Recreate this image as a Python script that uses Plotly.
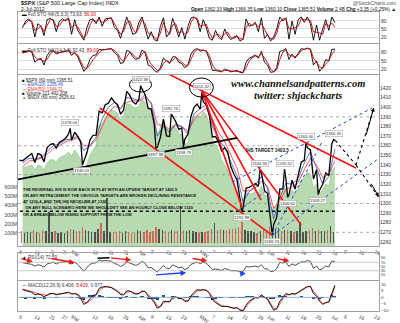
import plotly.graph_objects as go

# ----------------------------- data -----------------------------
# trading-day index 0 = 6-Feb-2012 ... 102 = 2-Jul-2012 (hourly chart, one value per day read off)
close = [
    1344.33, 1347.05, 1349.96, 1351.95, 1342.64, 1351.77, 1350.50, 1343.23, 1358.04, 1361.23,
    1362.21, 1357.66, 1363.46, 1365.74, 1367.59, 1372.18, 1365.68, 1374.09, 1369.63, 1364.33,
    1343.36, 1352.63, 1365.91, 1370.87, 1371.09, 1395.95, 1394.28, 1402.60, 1404.17, 1409.75,
    1405.52, 1402.89, 1392.78, 1397.11, 1416.51, 1412.52, 1405.54, 1403.28, 1408.47, 1419.04,
    1413.38, 1398.96, 1398.08, 1382.20, 1358.59, 1368.71, 1387.57, 1370.26, 1369.57, 1390.78,
    1385.14, 1376.92, 1378.53, 1366.94, 1371.97, 1390.69, 1399.98, 1403.36, 1397.91, 1405.82,
    1402.31, 1391.57, 1369.10, 1369.58, 1363.72, 1354.58, 1357.99, 1353.39, 1338.35, 1330.66,
    1324.80, 1304.86, 1295.22, 1315.99, 1316.63, 1318.86, 1320.68, 1317.82, 1332.42, 1313.32,
    1310.33, 1278.04, 1278.18, 1285.50, 1315.13, 1314.99, 1325.66, 1308.93, 1324.18, 1314.88,
    1329.10, 1342.84, 1344.78, 1357.98, 1355.69, 1325.51, 1335.02, 1313.72, 1319.99, 1331.85,
    1329.04, 1362.16, 1365.51]
prev_close = 1344.90

swing_day = [16, 20, 39, 44, 49, 53, 59, 72, 78, 82, 86, 87, 93, 97, 102]
swing_val = [1378.04, 1340.03, 1422.38, 1357.38, 1392.76, 1358.79, 1415.32, 1291.98,
             1334.93, 1266.74, 1335.52, 1306.62, 1363.46, 1309.27, 1366.35]
swing_side = [1, -1, 1, -1, 1, -1, 1, -1, 1, -1, 1, -1, 1, -1, 1]

ema_day = list(range(0, 103, 2))
ema20 = [1342, 1347, 1346, 1348, 1354, 1360, 1362, 1366, 1367, 1370,
         1355, 1360, 1369, 1388, 1400, 1405, 1398, 1410, 1409, 1407,
         1413, 1403, 1370, 1380, 1374, 1383, 1380, 1372, 1393, 1399,
         1402, 1380, 1366, 1359, 1343, 1329, 1302, 1312, 1319, 1328,
         1315, 1284, 1306, 1321, 1320, 1326, 1342, 1354, 1337, 1320,
         1328, 1356.46]
ema50 = [1338, 1344, 1345, 1347, 1351, 1357, 1360, 1364, 1366, 1368,
         1360, 1360, 1366, 1380, 1394, 1401, 1399, 1405, 1407, 1406,
         1410, 1405, 1382, 1381, 1377, 1381, 1380, 1375, 1387, 1394,
         1399, 1388, 1374, 1364, 1351, 1337, 1313, 1313, 1316, 1323,
         1318, 1295, 1302, 1315, 1317, 1322, 1335, 1347, 1340, 1327,
         1330, 1344.31]

ndx = [2624, 2627, 2629, 2631, 2619, 2631, 2629, 2619, 2636, 2644,
       2644, 2639, 2649, 2653, 2656, 2663, 2653, 2668, 2658, 2644,
       2614, 2631, 2656, 2668, 2680, 2729, 2732, 2746, 2754, 2766,
       2761, 2758, 2741, 2751, 2780, 2780, 2773, 2771, 2775, 2790,
       2785, 2766, 2771, 2746, 2705, 2722, 2741, 2722, 2712, 2729,
       2722, 2707, 2705, 2680, 2688, 2729, 2746, 2754, 2746, 2761,
       2754, 2729, 2692, 2680, 2668, 2644, 2631, 2619, 2600, 2583,
       2570, 2551, 2546, 2566, 2561, 2561, 2566, 2563, 2580, 2558,
       2556, 2527, 2527, 2536, 2566, 2566, 2575, 2556, 2570, 2561,
       2575, 2595, 2600, 2614, 2609, 2575, 2585, 2561, 2570, 2585,
       2580, 2619, 2626.61]

volume_m = [130, 110, 120, 115, 140, 120, 110, 135, 125, 330,
            115, 125, 110, 120, 105, 130, 150, 140, 125, 130,
            170, 140, 130, 120, 115, 150, 215, 130, 480, 120,
            115, 120, 130, 110, 125, 120, 110, 105, 140, 125,
            120, 140, 115, 130, 170, 150, 135, 130, 120, 140,
            130, 125, 400, 135, 125, 140, 130, 120, 110, 120,
            115, 130, 150, 215, 140, 150, 140, 135, 150, 145,
            160, 170, 230, 140, 130, 125, 120, 110, 130, 140,
            140, 170, 150, 140, 160, 130, 140, 135, 130, 120,
            125, 230, 120, 130, 135, 160, 130, 140, 125, 130,
            140, 180, 121]

sto1_k = [55, 80, 88, 75, 20, 70, 60, 25, 85, 90,
          82, 40, 78, 88, 80, 92, 30, 85, 45, 25,
          8, 55, 85, 88, 70, 95, 60, 88, 90, 92,
          55, 45, 15, 60, 95, 65, 30, 35, 75, 95,
          55, 12, 40, 10, 5, 60, 92, 20, 35, 90,
          55, 20, 55, 12, 60, 92, 95, 85, 40, 85,
          55, 15, 8, 45, 20, 10, 50, 25, 10, 20,
          25, 5, 12, 88, 60, 65, 75, 40, 92, 15,
          30, 5, 20, 50, 95, 80, 92, 12, 80, 30,
          85, 95, 75, 95, 70, 8, 65, 8, 50, 85,
          45, 95, 73.93]
sto1_d = [60, 70, 82, 80, 45, 50, 62, 40, 60, 85,
          86, 60, 62, 80, 84, 88, 55, 65, 58, 35,
          15, 30, 65, 85, 78, 85, 75, 78, 88, 90,
          70, 50, 30, 40, 75, 80, 50, 35, 55, 85,
          70, 35, 28, 20, 10, 35, 75, 45, 30, 65,
          70, 35, 40, 30, 38, 75, 92, 90, 60, 65,
          68, 35, 15, 28, 30, 18, 32, 38, 18, 15,
          22, 15, 10, 55, 72, 62, 70, 58, 70, 50,
          25, 15, 12, 35, 75, 88, 88, 50, 50, 55,
          60, 88, 85, 85, 82, 40, 38, 35, 30, 70,
          62, 72, 56.00]
sto2_k = [80, 85, 88, 82, 45, 55, 60, 35, 70, 85,
          88, 75, 80, 85, 86, 90, 70, 80, 65, 35,
          12, 25, 55, 70, 72, 92, 90, 92, 94, 95,
          80, 70, 40, 45, 88, 85, 65, 55, 60, 90,
          80, 35, 30, 15, 8, 25, 60, 50, 40, 65,
          65, 45, 40, 25, 35, 75, 90, 95, 85, 90,
          85, 55, 15, 15, 12, 10, 20, 15, 10, 12,
          15, 8, 6, 45, 60, 65, 72, 60, 85, 45,
          35, 8, 10, 25, 85, 88, 95, 55, 75, 60,
          80, 95, 92, 97, 92, 35, 50, 12, 25, 55,
          50, 93, 92.43]
sto2_d = [78, 82, 86, 85, 65, 55, 55, 48, 55, 75,
          85, 82, 80, 82, 85, 88, 80, 78, 72, 50,
          25, 22, 35, 55, 68, 80, 90, 91, 93, 94,
          88, 78, 58, 48, 65, 82, 75, 62, 58, 75,
          85, 55, 38, 25, 15, 18, 40, 52, 45, 52,
          62, 55, 45, 35, 32, 55, 80, 92, 90, 88,
          87, 70, 35, 18, 15, 12, 15, 16, 13, 12,
          13, 11, 8, 25, 50, 62, 68, 66, 75, 62,
          42, 20, 10, 18, 55, 82, 90, 72, 68, 65,
          72, 88, 93, 95, 94, 60, 45, 28, 22, 40,
          50, 75, 89.00]

rsi14 = [68, 65, 62, 60, 52, 58, 55, 48, 62, 66,
         70, 62, 68, 70, 72, 75, 62, 70, 60, 45,
         28, 45, 60, 66, 67, 80, 76, 78, 78, 75,
         64, 60, 50, 57, 72, 66, 58, 55, 62, 74,
         65, 44, 45, 35, 24, 38, 55, 42, 40, 58,
         52, 44, 47, 36, 42, 60, 66, 70, 64, 70,
         66, 52, 35, 38, 36, 32, 40, 37, 30, 30,
         30, 24, 26, 50, 48, 50, 52, 48, 58, 40,
         38, 26, 28, 40, 70, 66, 72, 50, 62, 55,
         64, 72, 72, 78, 74, 42, 52, 34, 40, 52,
         48, 76, 72.59]

macd_line = [6, 5, 4.5, 4, 2, 2.5, 2, 0.5, 2, 3,
             3, 2, 2.5, 3, 3.5, 4, 2.5, 3, 2, -1,
             -5.5, -4, -1, 1.5, 2, 7, 8, 8.5, 8, 7.5,
             6, 4.5, 2, 2, 5, 5, 3.5, 2.5, 3, 5,
             4.5, 1, -1, -4, -8.5, -7, -3, -3, -3.5, 0,
             0.5, -1, -1, -3, -3, 1, 4, 6, 5.5, 6,
             5.5, 3, -2, -4, -5.5, -7, -7, -7, -8, -8.5,
             -8, -10, -10.5, -6, -3, -1.5, 0, -0.5, 2, 0,
             -1.5, -6, -10, -9, -3, 0, 3, 2, 3, 2.5,
             4, 6, 7, 8.5, 8.5, 3, 1, -3, -5.5, -4,
             -3.5, 3, 9.406]
macd_signal = [6.5, 6, 5, 4.5, 3.5, 3, 2.5, 1.5, 1.5, 2.5,
               3, 2.5, 2.5, 2.8, 3.2, 3.7, 3, 3, 2.5, 0.5,
               -3.5, -4.5, -2.5, 0, 1.5, 5, 7, 8, 8.2, 7.8,
               6.6, 5.2, 3, 2.2, 3.8, 4.6, 4, 3, 3, 4.3,
               4.6, 2.2, 0, -2.8, -6.8, -7.3, -4.5, -3.3, -3.5, -1.2,
               0, -0.6, -0.9, -2.3, -2.8, -0.3, 2.8, 5, 5.5, 5.8,
               5.7, 3.8, 0, -3, -4.8, -6.4, -6.9, -7, -7.6, -8.3,
               -8.1, -9.4, -10.2, -7.4, -4.3, -2.3, -0.6, -0.5, 1.3, 0.4,
               -1, -4.6, -8.4, -8.9, -4.7, -1.2, 2, 2, 2.7, 2.6,
               3.5, 5.3, 6.6, 8, 8.5, 4.5, 1.8, -2, -4.8, -4.3,
               -3.7, 1.2, 8.429]
macd_hist = [-0.5, -1, -0.5, -0.5, -1.5, -0.5, -0.5, -1, 0.5, 0.5,
             0, -0.5, 0, 0.2, 0.3, 0.3, -0.5, 0, -0.5, -1.5,
             -2, 0.5, 1.5, 1.5, 0.5, 2, 1, 0.5, -0.2, -0.3,
             -0.6, -0.7, -1, -0.2, 1.2, 0.4, -0.5, -0.5, 0, 0.7,
             -0.1, -1.2, -1, -1.2, -1.7, 0.3, 1.5, 0.3, 0, 1.2,
             0.5, -0.4, -0.1, -0.7, -0.2, 1.3, 1.2, 1, 0, 0.2,
             -0.2, -0.8, -2, -1, -0.7, -0.6, -0.1, 0, -0.4, -0.2,
             0.1, -0.6, -0.3, 1.4, 1.3, 0.8, 0.6, 0, 0.7, -0.4,
             -0.5, -1.4, -1.6, -0.1, 1.7, 1.2, 1, 0, 0.3, -0.1,
             0.5, 0.7, 0.4, 0.5, 0, -1.5, -0.8, -1, -0.7, 0.3,
             0.2, 1.8, 0.977]

tick_idx = [0, 5, 10, 14, 17, 24, 29, 34, 39, 43, 48, 53, 59, 63, 68, 73, 78, 81,
            87, 92, 97, 102, 106, 111, 116]
tick_text = ["6", "13", "21", "27", "Mar", "12", "19", "26", "Apr", "9", "16", "23", "May",
             "7", "14", "21", "29", "Jun", "11", "18", "25", "Jul", "9", "16", "23"]
price_ticks = list(range(1260, 1430, 10))
grid_levels = [1270, 1300, 1330, 1360, 1390]
vol_ticks = [100, 200, 300, 400, 500, 600]
support_level = 1291.98

# ----------------------------- geometry -----------------------------
W, H = 400, 323
ML, MR, MT, MB = 18, 21, 12, 12
PW, PH = W - ML - MR, H - MT - MB


def dom(top, bot):
    return [(H - MB - bot) / PH, (H - MB - top) / PH]


def P(x, y):
    return (x - ML) / PW, (H - MB - y) / PH


FONT = "Liberation Sans, Arial, sans-serif"
n = len(close)
xd = [i + 0.9 for i in range(n)]

fig = go.Figure()

# --- panel 1 : Full STO 5,3,3
fig.add_trace(go.Scatter(x=xd, y=sto1_k, mode="lines", line=dict(color="black", width=0.9), xaxis="x", yaxis="y"))
fig.add_trace(go.Scatter(x=xd, y=sto1_d, mode="lines", line=dict(color="#d00000", width=0.9), xaxis="x", yaxis="y"))
# --- panel 2 : Full STO 14,3,3
fig.add_trace(go.Scatter(x=xd, y=sto2_k, mode="lines", line=dict(color="black", width=0.9), xaxis="x2", yaxis="y2"))
fig.add_trace(go.Scatter(x=xd, y=sto2_d, mode="lines", line=dict(color="#d00000", width=0.9), xaxis="x2", yaxis="y2"))

# --- panel 3 : NDX area (base), volume (overlay), price (overlay)
fig.add_trace(go.Scatter(x=xd, y=ndx, mode="lines", fill="tozeroy", fillcolor="rgba(172,212,163,0.85)",
                         line=dict(color="#8cbf84", width=0.6), xaxis="x3", yaxis="y3"))
vcol = ["#d9534f" if (close[i] < (close[i - 1] if i else prev_close)) else "#3a3a3a" for i in range(n)]
fig.add_trace(go.Bar(x=[i + 0.5 for i in range(n)], y=volume_m, marker=dict(color=vcol, line=dict(width=0)),
                     width=0.45, opacity=0.85, xaxis="x3", yaxis="y6"))
fig.add_trace(go.Scatter(x=[d + 0.9 for d in ema_day], y=ema50, mode="lines", line=dict(color="#ff3030", width=0.8),
                         xaxis="x3", yaxis="y7"))
fig.add_trace(go.Scatter(x=[d + 0.9 for d in ema_day], y=ema20, mode="lines", line=dict(color="#3050d0", width=0.8),
                         xaxis="x3", yaxis="y7"))
pts = [(-0.1, prev_close)] + list(zip(xd, close)) + [(d + 0.45, v) for d, v in zip(swing_day, swing_val)]
pts.sort()
fig.add_trace(go.Scatter(x=[p[0] for p in pts], y=[p[1] for p in pts], mode="lines",
                         line=dict(color="black", width=1.3), xaxis="x3", yaxis="y7"))

# --- panel 4 : RSI
fig.add_trace(go.Scatter(x=xd, y=rsi14, mode="lines", line=dict(color="#222", width=0.8), xaxis="x4", yaxis="y4"))
# --- panel 5 : MACD
fig.add_trace(go.Bar(x=xd, y=macd_hist, marker=dict(color="#1d4a8a", line=dict(width=0)), width=1.0,
                     xaxis="x5", yaxis="y5"))
fig.add_trace(go.Scatter(x=xd, y=macd_signal, mode="lines", line=dict(color="#ff4040", width=0.9), xaxis="x5", yaxis="y5"))
fig.add_trace(go.Scatter(x=xd, y=macd_line, mode="lines", line=dict(color="black", width=0.9), xaxis="x5", yaxis="y5"))

# ----------------------------- axes -----------------------------
tf = dict(size=5.0, color="#333", family=FONT)
xbase = dict(range=[-0.6, 117.3], showgrid=False, zeroline=False, showline=True, mirror=True,
             linecolor="#a0a0a0", linewidth=1, ticks="", tickvals=tick_idx, ticktext=tick_text,
             tickfont=tf, showticklabels=False, fixedrange=True, automargin=False)
ybase = dict(showgrid=True, gridcolor="#c8c8c8", gridwidth=0.6, zeroline=False, showline=True, mirror=True,
             linecolor="#a0a0a0", linewidth=1, ticks="", side="right", tickfont=tf, fixedrange=True,
             automargin=False)

lay = dict(
    xaxis=dict(xbase, anchor="y"),
    xaxis2=dict(xbase, anchor="y2", matches="x"),
    xaxis3=dict(xbase, anchor="y3", matches="x", showticklabels=True),
    xaxis4=dict(xbase, anchor="y4", matches="x"),
    xaxis5=dict(xbase, anchor="y5", matches="x", showticklabels=True),
    yaxis=dict(ybase, domain=dom(12, 43), range=[-2.5, 113.7], tickvals=[20, 50, 80], anchor="x"),
    yaxis2=dict(ybase, domain=dom(44, 74), range=[2, 111.8], tickvals=[20, 50, 80], anchor="x2"),
    yaxis3=dict(ybase, domain=dom(75, 246), range=[2433.8, 2851], showgrid=False, showticklabels=False, anchor="x3"),
    yaxis6=dict(overlaying="y3", anchor="x3", side="left", range=[-32, 1800], tickvals=vol_ticks,
                ticktext=[f"{v}M" for v in vol_ticks], showgrid=False, zeroline=False, showline=False,
                ticks="", tickfont=dict(size=5, color="#444", family=FONT), fixedrange=True, automargin=False),
    yaxis7=dict(overlaying="y3", anchor="x3", side="right", range=[1255.8, 1433.5], tickvals=price_ticks,
                showgrid=False, zeroline=False, showline=False, ticks="",
                tickfont=dict(size=5, color="#333", family=FONT), fixedrange=True, automargin=False),
    yaxis4=dict(ybase, domain=dom(253, 280), range=[-13.5, 113.5], tickvals=[10, 30, 50, 70, 90],
                showgrid=False, anchor="x4", tickfont=dict(size=4, color="#333", family=FONT)),
    yaxis5=dict(ybase, domain=dom(281, 311), range=[-10.6, 12.7], tickvals=[-10, -5, 0, 5, 10],
                showgrid=False, anchor="x5", tickfont=dict(size=4.4, color="#333", family=FONT)),
)

# ----------------------------- shapes -----------------------------
shapes = []
for g in grid_levels:
    shapes.append(dict(type="line", xref="x3", yref="y7", x0=-0.6, x1=117.3, y0=g, y1=g,
                       line=dict(color="#8a8a8a", width=0.7, dash="dot"), layer="above"))
for g in [30, 70]:
    shapes.append(dict(type="line", xref="x4", yref="y4", x0=-0.6, x1=117.3, y0=g, y1=g,
                       line=dict(color="#b0b0b0", width=0.7)))
shapes.append(dict(type="line", xref="x5", yref="y5", x0=-0.6, x1=103.3, y0=0, y1=0,
                   line=dict(color="#7aa6d6", width=0.8)))
# support dotted line at May low
shapes.append(dict(type="line", xref="x3", yref="y7", x0=0, x1=103.3, y0=support_level, y1=support_level,
                   line=dict(color="black", width=1.6, dash="dot")))


def seg(x0, y0, x1, y1, color, width=1.6, dash="solid"):
    shapes.append(dict(type="line", xref="x3", yref="y7", x0=x0, y0=y0, x1=x1, y1=y1,
                       line=dict(color=color, width=width, dash=dash), layer="above"))


RED = "#ff1010"
seg(26.1, 1399.2, 82.45, 1266.74, RED)          # falling channel support
seg(44.6, 1440.8, 109.8, 1336.9, RED)           # declining resistance from highs
seg(59.5, 1417.0, 91.9, 1277.7, RED)            # fan lines off the May high
seg(59.5, 1417.0, 78.8, 1303.6, RED)
seg(59.5, 1417.0, 72.6, 1295.3, RED)
seg(-1.6, 1324.4, 71.0, 1368.1, "black", 1.8)   # rising black line
BLUE = "#2040ff"
seg(69.4, 1322.3, 115.0, 1399.2, BLUE, 1.0, "dot")
seg(82.45, 1266.74, 117.3, 1347.0, BLUE, 1.0, "dot")
seg(82.45, 1266.74, 98.7, 1363.9, BLUE, 1.0, "dot")
seg(71.6, 1293.0, 80.0, 1312.0, BLUE, 1.0, "dot")
seg(103.0, 1365.5, 109.8, 1340.0, "black", 1.1, "dot")
seg(109.8, 1340.0, 115.6, 1399.5, "black", 1.1, "dot")
seg(109.8, 1340.0, 117.3, 1306.0, "black", 1.1, "dot")
# ellipses around the two highs
for (a, b, c, d) in [(35.8, 43.0, 1415.8, 1431.4), (55.4, 63.2, 1410.6, 1430.4)]:
    shapes.append(dict(type="circle", xref="x3", yref="y7", x0=a, x1=b, y0=c, y1=d,
                       line=dict(color="black", width=1.0), layer="above"))
# black segment on RSI
shapes.append(dict(type="line", xref="x4", yref="y4", x0=25.4, y0=88.6, x1=29.3, y1=91.4,
                   line=dict(color="black", width=1.5)))

# ----------------------------- annotations -----------------------------
ann = []


def txt(x, y, s, size=5, color="#111", anchor="left", family=FONT, **kw):
    px_, py_ = P(x, y)
    ann.append(dict(x=px_, y=py_, xref="paper", yref="paper", text=s, showarrow=False, xanchor=anchor,
                    yanchor="middle", font=dict(size=size, color=color, family=family), **kw))


txt(19, 3.5, "<b>$SPX</b> (S&P 500 Large Cap Index) INDX", 5.5)
txt(19, 9.5, "2-Jul-2012", 5)
txt(398, 3.5, "@StockCharts.com", 5, "#555", "right")
txt(398, 9.5, "<b>Open</b> 1362.33 <b>High</b> 1366.35 <b>Low</b> 1360.10 <b>Close</b> 1365.51 "
    "<b>Volume</b> 2.4B <b>Chg</b> +3.35 (+0.25%) ▲", 4.8, "#111", "right")
txt(20, 15, "<span style='color:#000'>▬</span> Full STO %K(5,3,3) 73.93, <span style='color:#d00'>56.00</span>", 4.7, "#333")
txt(20, 50.5, "<span style='color:#000'>▬</span> Full STO %K(14,3,3) 92.43, <span style='color:#d00'>89.00</span>", 4.7, "#333")
txt(20, 80.7, "■ $SPX (60 min) 1365.51", 4.5, "#222")
txt(20, 85, "<span style='color:#3050d0'>— EMA(20) 1356.46</span>", 4.5)
txt(20, 89.3, "<span style='color:#ff3030'>— EMA(50) 1344.31</span>", 4.5)
txt(20, 93.6, "■ Volume 121,492,208", 4.5, "#222")
txt(20, 97.9, "<span style='color:#5a9a50'>▲</span> $NDX (60 min) 2626.61", 4.5, "#222")
txt(20, 257, "<span style='color:#000'>▲</span> RSI(14) 72.59", 4.7, "#333")
txt(20, 285, "— MACD(12,26,9) 9.406, <span style='color:#e00'>8.429</span>, <span style='color:#1d4a8a'>0.977</span>", 4.7, "#333")

SERIF = "Liberation Serif, Times New Roman, serif"
txt(298, 84, "<b><i>www.channelsandpatterns.com</i></b>", 10.5, "#111", "center", SERIF)
txt(298, 95, "<b><i>twitter: shjackcharts</i></b>", 10.5, "#111", "center", SERIF)
txt(244, 150.5, "<b>IHS TARGET 1403.5</b>", 4.6, "#111")

block = ["THE REVERSAL IHS IS NOW BACK IN PLAY WITH AN UPSIDE TARGET AT 1403.5",
         "ON ANY RETRACEMENT THE OBVIOUS TARGETS ARE BROKEN DECLINING RESISTANCE",
         "AT 1330.4, AND THE IHS NECKLINE AT 1335",
         "  ON ANY BULL SCENARIO HERE WE SHOULDN'T SEE AN HOURLY CLOSE BELOW 1320",
         "OR A BREAK BELOW RISING SUPPORT FROM THE LOW"]
for k, line in enumerate(block):
    txt(21, 189 + k * 6.3, "<b>" + line + "</b>", 4.0, "#111", family="Liberation Sans, Arial, sans-serif")

# price value boxes at swing points
for d, v, s in zip(swing_day, swing_val, swing_side):
    ann.append(dict(x=d + 0.45, y=v, xref="x3", yref="y7", text=f"{v:.2f}", showarrow=False,
                    yshift=6 * s, font=dict(size=4.2, color="#333", family=FONT),
                    bgcolor="rgba(255,255,255,0.9)", bordercolor="#999", borderwidth=0.5, borderpad=0.5))


def arrow(x0, y0, x1, y1, color, xr, yr, w=1.4):
    ann.append(dict(x=x1, y=y1, ax=x0, ay=y0, xref=xr, yref=yr, axref=xr, ayref=yr, text="",
                    showarrow=True, arrowhead=2, arrowsize=0.8, arrowwidth=w, arrowcolor=color))


arrow(113.0, 1370.0, 115.6, 1399.5, "black", "x3", "y7", 1.0)
arrow(114.5, 1322.0, 117.2, 1307.0, "black", "x3", "y7", 1.0)
# RSI divergence arrows
arrow(0.0, 88.6, 4.2, 72.6, RED, "x4", "y4")
arrow(9.8, 88.6, 17.9, 67.9, RED, "x4", "y4")
arrow(29.3, 91.4, 36.4, 80.6, RED, "x4", "y4")
arrow(56.0, 88.6, 61.2, 75.9, RED, "x4", "y4")
arrow(83.6, 88.6, 88.0, 75.9, RED, "x4", "y4")
arrow(44.0, 10.0, 54.3, 20.8, BLUE, "x4", "y4")
arrow(71.7, 14.7, 73.8, 18.0, BLUE, "x4", "y4")

fig.update_layout(**lay)
fig.update_layout(width=W, height=H, autosize=False,
                  margin=dict(l=ML, r=MR, t=MT, b=MB, pad=0, autoexpand=False),
                  paper_bgcolor="white", plot_bgcolor="white", showlegend=False, hovermode=False,
                  shapes=shapes, annotations=ann, bargap=0, font=dict(family=FONT))
fig.write_html("out.html", include_plotlyjs=True, config={"displayModeBar": False, "staticPlot": True})
